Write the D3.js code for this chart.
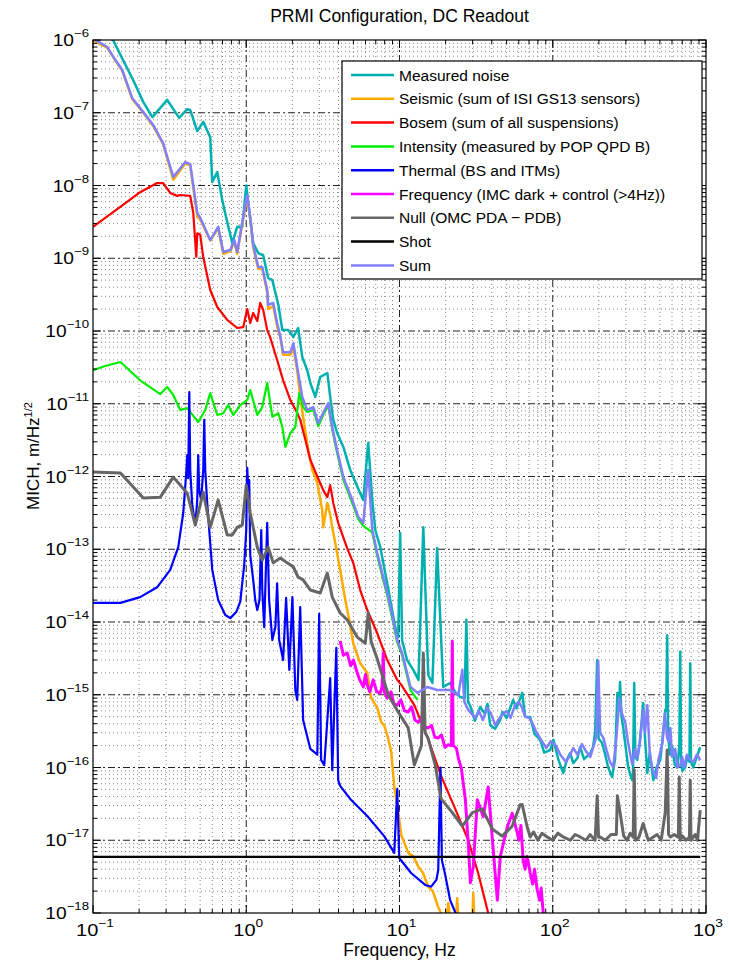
<!DOCTYPE html>
<html>
<head>
<meta charset="utf-8">
<script src="https://cdn.jsdelivr.net/npm/d3@7"></script>
<style>
body { margin: 0; background: #fff; }
text { font-family: "Liberation Sans", Arial, Helvetica, sans-serif; fill: #000; }
</style>
</head>
<body>
<div id="chart-area"></div>
<script>
// [frequency Hz, MICH ASD m/rtHz]
var measuredNoise = [[0.1,1.6e-6],[0.135,1.0e-6],[0.183,2.8e-7],[0.213,1.4e-7],[0.244,8.7e-8],[0.305,1.5e-7],[0.365,8.5e-8],[0.412,1.12e-7],[0.431,1.09e-7],[0.479,5.6e-8],[0.524,7.5e-8],[0.582,4.6e-8],[0.60,1.12e-8],[0.647,1.53e-8],[0.697,6.3e-9],[0.751,3.15e-9],[0.811,1.62e-9],[0.873,2.7e-9],[0.942,2.7e-9],[1.0,1.0e-8],[1.03,5.7e-9],[1.11,1.62e-9],[1.197,1.18e-9],[1.29,1.1e-9],[1.39,5.35e-10],[1.48,5.0e-10],[1.62,2.28e-10],[1.72,1.03e-10],[1.88,1.03e-10],[2.03,8.3e-11],[2.18,1.1e-10],[2.32,4.4e-11],[2.5,2.9e-11],[2.62,1.93e-11],[2.82,1.24e-11],[3.04,2.33e-11],[3.38,2.65e-11],[3.53,1.24e-11],[3.70,6.0e-12],[3.92,3.95e-12],[4.30,2.55e-12],[4.77,1.23e-12],[5.54,5.9e-13],[5.80,4.75e-13],[6.25,2.9e-12],[6.64,4.75e-13],[6.95,1.84e-13],[7.49,1.07e-13],[8.07,4.7e-14],[8.70,2.0e-14],[9.38,8.5e-15],[9.81,6.2e-15],[10.1,1.67e-13],[10.4,5.6e-15],[11.2,3.0e-15],[12.3,2.2e-15],[13.3,1.6e-15],[14.3,2.0e-13],[15.4,1.87e-15],[16.4,1.45e-15],[17.6,1.04e-13],[19.3,1.28e-15],[21.4,1.45e-15],[23.1,1.09e-15],[24.9,9.3e-16],[26.6,9.0e-16],[27.3,1.07e-14],[28.0,8.0e-16],[29.0,7.0e-16],[31.0,4.4e-16],[33.6,6.8e-16],[36.0,5.5e-16],[37.5,7.5e-16],[39.1,3.8e-16],[42.0,3.4e-16],[45.4,4.5e-16],[47.0,5.8e-16],[50.0,4.8e-16],[55.2,8.5e-16],[58.0,6.5e-16],[63.2,1.06e-15],[66.0,5.0e-16],[71.3,4.95e-16],[76.0,2.9e-16],[82.8,2.4e-16],[88.0,1.6e-16],[96.3,1.74e-16],[101,2.4e-16],[109,1.27e-16],[117,8.4e-17],[124,1.3e-16],[130,1.58e-16],[136,1.15e-16],[145,1.35e-16],[151,1.91e-16],[160,1.3e-16],[176,1.58e-16],[183,1.9e-16],[189,3.0e-16],[195,3.0e-15],[199,2.5e-16],[210,2.17e-16],[220,1.5e-16],[230,1.0e-16],[244,7.4e-17],[255,1.3e-16],[264,1.06e-15],[270,6.0e-16],[275,1.5e-15],[281,5.0e-16],[288,3.6e-16],[300,1.8e-16],[311,1.0e-16],[320,8.0e-17],[330,6.7e-17],[334,9.0e-17],[340,1.45e-15],[346,1.4e-16],[356,1.27e-16],[370,2.2e-16],[389,7.7e-16],[400,2.6e-16],[414,8.4e-17],[430,1.6e-16],[453,6.7e-17],[475,1.0e-16],[503,1.27e-16],[520,2.4e-16],[542,6.2e-16],[550,6.0e-16],[558,6.6e-15],[566,3.0e-16],[580,1.5e-16],[603,1.91e-16],[625,1.1e-16],[649,1.0e-16],[660,1.4e-16],[670,2.0e-16],[679,3.9e-15],[688,1.2e-16],[700,9.0e-17],[731,1.0e-16],[755,1.4e-16],[780,1.2e-16],[789,2.7e-15],[798,1.2e-16],[826,1.0e-16],[870,1.4e-16],[917,1.9e-16]];

var seismic = [[0.1,1.0e-6],[0.124,7.8e-7],[0.14,5.2e-7],[0.155,3.8e-7],[0.18,1.55e-7],[0.213,1.0e-7],[0.247,6.6e-8],[0.287,3.7e-8],[0.334,1.2e-8],[0.40,2.0e-8],[0.431,1.9e-8],[0.479,3.7e-9],[0.501,3.4e-9],[0.582,1.75e-9],[0.656,2.6e-9],[0.708,1.15e-9],[0.787,1.25e-9],[0.835,1.7e-9],[0.873,1.15e-9],[0.942,3.0e-9],[1.015,7.0e-9],[1.062,3.5e-9],[1.11,1.4e-9],[1.197,7.2e-10],[1.272,7.2e-10],[1.37,3.4e-10],[1.39,2.0e-10],[1.50,2.2e-10],[1.59,1.17e-10],[1.67,8.0e-11],[1.74,4.7e-11],[1.94,4.7e-11],[2.03,6.0e-11],[2.15,2.9e-11],[2.25,1.24e-11],[2.35,6.6e-12],[2.54,2.3e-12],[2.70,1.23e-12],[2.91,8.1e-13],[3.13,3.45e-13],[3.18,2.0e-13],[3.38,4.3e-13],[3.53,3.0e-13],[3.64,2.0e-13],[3.81,1.22e-13],[4.10,5.2e-14],[4.43,2.0e-14],[4.77,9.1e-15],[4.99,5.1e-15],[5.54,2.7e-15],[6.16,2.0e-15],[6.54,9.0e-16],[7.16,6.6e-16],[7.6,4.2e-16],[7.95,3.8e-16],[8.4,2.6e-16],[8.83,1.63e-16],[9.24,5.6e-17],[9.81,2.45e-17],[10.3,1.14e-17],[10.8,9.0e-18],[11.4,6.7e-18],[12.3,6.0e-18],[13.3,4.3e-18],[14.2,3.6e-18],[15.4,2.3e-18],[16.5,2.0e-18],[17.9,1.2e-18],[18.9,9.4e-19],[20.4,9.0e-19],[20.8,1.37e-18],[21.3,9.0e-19],[23.4,9.0e-19],[23.8,1.6e-18],[24.2,8.0e-19],[29.9,8.0e-19],[30.3,1.9e-18],[30.8,8.0e-19]];

var bosem = [[0.1,2.7e-9],[0.157,5.4e-9],[0.203,8.1e-9],[0.262,1.08e-8],[0.287,1.08e-8],[0.319,7.9e-9],[0.355,7.2e-9],[0.371,7.4e-9],[0.431,7.2e-9],[0.451,4.2e-9],[0.472,1.04e-9],[0.479,2.2e-9],[0.501,2.1e-9],[0.524,1.04e-9],[0.582,3.66e-10],[0.647,2.14e-10],[0.751,1.42e-10],[0.873,1.1e-10],[0.956,1.13e-10],[1.015,2.0e-10],[1.062,1.29e-10],[1.11,1.77e-10],[1.18,1.37e-10],[1.234,2.43e-10],[1.29,1.95e-10],[1.37,1.03e-10],[1.43,8.3e-11],[1.59,4.0e-11],[1.74,2.1e-11],[1.94,1.12e-11],[2.15,7.5e-12],[2.25,6.0e-12],[2.43,3.2e-12],[2.62,1.69e-12],[2.91,1.0e-12],[3.18,6.5e-13],[3.38,5.2e-13],[3.53,7.6e-13],[3.70,4.3e-13],[3.98,2.3e-13],[4.56,1.03e-13],[4.99,6.5e-14],[5.54,2.75e-14],[6.16,1.46e-14],[7.16,7.0e-15],[8.32,3.0e-15],[9.67,1.6e-15],[10.3,1.36e-15],[12.5,7.2e-16],[15.4,2.46e-16],[18.7,7.6e-17],[23.1,2.7e-17],[28.1,1.0e-17],[32.6,3.55e-18],[37.9,1.0e-18],[40.3,6.8e-19]];

var intensity = [[0.1,2.9e-11],[0.12,3.3e-11],[0.151,3.75e-11],[0.203,2.1e-11],[0.275,1.36e-11],[0.305,1.7e-11],[0.334,1.32e-11],[0.371,8.2e-12],[0.412,8.7e-12],[0.486,5.6e-12],[0.54,8.2e-12],[0.582,1.4e-11],[0.647,7.0e-12],[0.708,7.4e-12],[0.763,9.6e-12],[0.822,7.0e-12],[0.914,9.6e-12],[1.015,1.13e-11],[1.062,1.54e-11],[1.18,7.0e-12],[1.272,9.0e-12],[1.37,1.93e-11],[1.48,6.6e-12],[1.62,7.4e-12],[1.72,4.8e-12],[1.80,2.55e-12],[1.94,3.95e-12],[2.09,4.8e-12],[2.22,1.4e-11],[2.35,9.0e-12],[2.5,7.7e-12],[2.74,8.2e-12],[2.95,4.9e-12],[3.18,7.0e-12],[3.43,9.4e-12],[3.64,4.4e-12],[3.92,2.1e-12],[4.30,9.0e-13],[4.92,4.3e-13],[5.38,2.6e-13],[5.80,2.1e-13],[6.64,1.7e-13],[7.16,8.1e-14],[7.71,4.3e-14],[8.32,2.3e-14],[9.10,9.7e-15],[9.67,5.2e-15],[10.4,3.5e-15],[11.8,1.16e-15],[13.1,8.5e-16]];

var thermal = [[0.1,1.83e-14],[0.151,1.83e-14],[0.203,2.2e-14],[0.262,3.0e-14],[0.319,5.2e-14],[0.36,1.07e-13],[0.388,3.15e-13],[0.406,1.12e-12],[0.412,1.97e-12],[0.418,9.5e-13],[0.425,1.45e-11],[0.431,1.23e-12],[0.444,4.1e-13],[0.465,2.15e-13],[0.479,4.75e-13],[0.486,1.97e-12],[0.493,6.5e-13],[0.508,4.75e-13],[0.524,1.23e-12],[0.532,6.0e-12],[0.54,1.23e-12],[0.557,4.1e-13],[0.60,5.2e-14],[0.656,2.0e-14],[0.73,1.25e-14],[0.787,1.13e-14],[0.86,1.37e-14],[0.914,1.9e-14],[0.97,6.1e-14],[1.0,1.84e-13],[1.015,1.31e-12],[1.03,6.5e-13],[1.046,8.9e-13],[1.062,8.3e-14],[1.11,3.8e-14],[1.145,2.0e-14],[1.18,1.46e-14],[1.22,2.0e-14],[1.253,1.84e-13],[1.272,2.75e-14],[1.31,8.5e-15],[1.37,2.3e-13],[1.41,2.0e-14],[1.48,5.65e-15],[1.55,8.6e-15],[1.59,3.4e-14],[1.64,5.65e-15],[1.74,3.0e-15],[1.82,2.14e-14],[1.91,2.2e-15],[2.0,2.2e-14],[2.09,1.16e-15],[2.15,8.5e-16],[2.25,1.6e-14],[2.35,4.5e-16],[2.62,1.8e-16],[2.91,1.5e-16],[2.99,1.29e-14],[3.08,1.27e-16],[3.23,1.08e-16],[3.53,1.7e-15],[3.64,9.2e-17],[3.87,4.4e-15],[3.98,6.7e-17],[4.10,5.6e-17],[4.77,3.7e-17],[6.16,2.15e-17],[7.95,1.14e-17],[9.24,6.7e-18],[9.67,5.1e-17],[9.96,5.7e-18],[11.9,3.55e-18],[14.7,2.43e-18],[16.1,2.3e-18],[17.4,2.85e-18],[17.9,3.9e-18],[18.5,1.0e-16],[18.9,5.35e-18],[19.9,3.3e-18],[21.4,1.5e-18],[23.5,9.4e-19],[25.0,6.0e-19]];

var frequencyNoise = [[4.10,5.5e-15],[4.3,3.5e-15],[4.56,3.75e-15],[4.8,2.5e-15],[5.0,3.0e-15],[5.30,2.0e-15],[5.5,1.6e-15],[5.80,1.28e-15],[6.0,1.9e-15],[6.16,1.35e-15],[6.4,1.1e-15],[6.74,1.6e-15],[7.1,1.1e-15],[7.49,1.06e-15],[7.70,1.3e-15],[7.83,3.75e-15],[7.95,1.1e-15],[8.32,9.0e-16],[8.8,1.1e-15],[9.2,7.5e-16],[9.67,7.2e-16],[10.2,8.5e-16],[10.8,6.0e-16],[11.4,5.8e-16],[12.0,6.8e-16],[12.6,4.5e-16],[13.3,4.2e-16],[14.0,5.0e-16],[14.6,3.6e-16],[15.4,3.5e-16],[16.2,3.8e-16],[17.0,2.6e-16],[17.9,2.55e-16],[18.8,2.8e-16],[19.8,1.9e-16],[20.8,2.05e-16],[21.8,2.0e-16],[22.1,5.5e-15],[22.4,2.0e-16],[23.5,1.85e-16],[24.3,1.3e-16],[25.3,9.9e-17],[26.9,3.6e-17],[28.1,9.2e-18],[29.0,2.6e-18],[30.3,4.3e-18],[32.2,3.6e-17],[35.2,2.1e-17],[37.9,5.4e-17],[40.9,7.3e-18],[43.5,1.5e-18],[45.4,5.9e-18],[50.5,1.52e-17],[54.4,2.35e-17],[58.7,1.26e-17],[60,1.0e-17],[62,1.6e-17],[64.1,5.35e-18],[66,4.0e-18],[68,6.0e-18],[71.3,3.55e-18],[74,2.5e-18],[76,4.0e-18],[79.2,2.07e-18],[82,1.5e-18],[84,2.2e-18],[86.7,1.0e-18],[90.0,8.0e-19]];

var nullChannel = [[0.1,1.15e-12],[0.151,1.12e-12],[0.213,5.05e-13],[0.275,5.2e-13],[0.334,9.8e-13],[0.412,5.9e-13],[0.465,2.15e-13],[0.524,6.1e-13],[0.582,2.0e-13],[0.656,4.75e-13],[0.751,1.57e-13],[0.811,1.57e-13],[0.873,2.0e-13],[0.942,2.15e-13],[1.0,7.6e-13],[1.062,3.15e-13],[1.18,1.07e-13],[1.272,7.1e-14],[1.39,1.07e-13],[1.50,6.5e-14],[1.67,7.6e-14],[1.85,6.5e-14],[2.03,5.7e-14],[2.18,4.15e-14],[2.35,3.8e-14],[2.62,2.75e-14],[3.04,2.5e-14],[3.38,4.7e-14],[3.64,2.2e-14],[4.10,1.33e-14],[4.56,1.07e-14],[5.30,6.2e-15],[5.98,5.1e-15],[6.25,1.33e-14],[6.54,5.3e-15],[7.16,3.1e-15],[8.44,1.0e-15],[9.81,5.8e-16],[11.4,3.5e-16],[12.5,1.08e-16],[13.9,2.0e-16],[14.3,3.75e-15],[14.7,3.0e-16],[15.4,2.5e-16],[17.1,1.08e-16],[18.7,3.7e-17],[22.1,2.4e-17],[25.7,1.57e-17],[29.9,2.4e-17],[34.7,2.7e-17],[40.3,1.43e-17],[46.8,1.14e-17],[54.4,1.57e-17],[61.3,3.07e-17],[63.2,3.1e-17],[68.1,1.52e-17],[71.3,1.11e-17],[75,1.3e-17],[80,1.0e-17],[85,1.25e-17],[92.1,1.11e-17],[100,1.0e-17],[108,1.25e-17],[117,1.11e-17],[130,1.0e-17],[140,1.2e-17],[151,1.11e-17],[165,1.0e-17],[175,1.2e-17],[189,1.0e-17],[195,4.1e-17],[199,1.1e-17],[204,1.11e-17],[220,1.0e-17],[240,1.2e-17],[260,1.2e-17],[264,4.1e-17],[275,2.4e-17],[290,1.15e-17],[306,1.0e-17],[320,1.25e-17],[335,1.1e-17],[340,9.3e-17],[346,1.0e-17],[365,1.1e-17],[389,1.7e-17],[420,1.0e-17],[453,1.11e-17],[480,1.2e-17],[510,1.0e-17],[542,2.4e-17],[558,1.74e-16],[570,1.2e-17],[585,1.11e-17],[620,1.2e-17],[660,1.1e-17],[669,7.4e-17],[680,1.0e-17],[700,1.15e-17],[740,1.0e-17],[780,1.1e-17],[789,6.7e-17],[798,1.0e-17],[850,1.2e-17],[880,1.0e-17],[917,2.6e-17]];

var shot = [[0.1,5.9e-18],[917,5.9e-18]];

var sumNoise = [[0.1,1.05e-6],[0.124,8.0e-7],[0.14,5.3e-7],[0.155,3.9e-7],[0.18,1.6e-7],[0.213,1.02e-7],[0.247,6.8e-8],[0.287,3.8e-8],[0.334,1.31e-8],[0.40,2.1e-8],[0.431,1.97e-8],[0.479,4.2e-9],[0.501,3.6e-9],[0.582,1.78e-9],[0.656,2.7e-9],[0.708,1.22e-9],[0.787,1.3e-9],[0.835,1.78e-9],[0.873,1.22e-9],[0.942,3.15e-9],[1.015,7.4e-9],[1.062,3.7e-9],[1.11,1.52e-9],[1.197,7.6e-10],[1.272,7.6e-10],[1.37,3.66e-10],[1.39,2.28e-10],[1.50,2.43e-10],[1.59,1.29e-10],[1.67,8.3e-11],[1.74,5.1e-11],[1.94,5.1e-11],[2.03,6.8e-11],[2.15,3.2e-11],[2.32,1.24e-11],[2.50,8.2e-12],[2.74,9.0e-12],[2.95,5.4e-12],[3.18,7.5e-12],[3.43,1.02e-11],[3.64,4.8e-12],[3.92,2.3e-12],[4.30,9.8e-13],[4.92,4.75e-13],[5.38,2.8e-13],[5.80,2.3e-13],[6.25,1.23e-12],[6.64,1.84e-13],[7.16,8.9e-14],[7.71,4.7e-14],[8.32,2.5e-14],[9.10,1.07e-14],[9.67,5.65e-15],[10.4,3.75e-15],[11.8,1.28e-15],[13.1,1.06e-15],[15.2,1.28e-15],[17.6,1.16e-15],[21.4,1.16e-15],[24.2,9.9e-16],[25.7,2.2e-15],[26.5,8.0e-16],[28.1,6.2e-16],[29.5,5.5e-16],[31.2,4.8e-16],[33,6.0e-16],[35,4.5e-16],[37.4,6.6e-16],[39.5,5.5e-16],[42.2,3.8e-16],[44,4.5e-16],[46.8,5.3e-16],[50,6.0e-16],[53,4.8e-16],[56.9,7.2e-16],[60,8.0e-16],[63.2,6.6e-16],[66,5.0e-16],[70.3,4.8e-16],[74,4.0e-16],[78.0,3.1e-16],[84,2.4e-16],[90.8,1.85e-16],[97,2.3e-16],[105,2.0e-16],[112,1.5e-16],[122,1.19e-16],[128,1.4e-16],[136,1.85e-16],[145,1.5e-16],[155,2.1e-16],[166,1.63e-16],[176,1.4e-16],[192,2.6e-16],[198,2.9e-15],[204,3.0e-16],[214,2.55e-16],[225,1.7e-16],[236,1.2e-16],[248,1.0e-16],[260,2.5e-16],[272,9.0e-16],[283,5.5e-16],[297,4.2e-16],[310,2.2e-16],[330,1.1e-16],[345,1.8e-16],[356,1.35e-16],[370,2.2e-16],[389,6.2e-16],[400,3.0e-16],[414,7.2e-16],[430,1.5e-16],[450,9.0e-17],[473,7.2e-17],[490,1.3e-16],[520,2.2e-16],[540,5.5e-16],[558,2.55e-16],[570,2.3e-16],[585,3.5e-16],[600,1.4e-16],[630,1.8e-16],[650,1.0e-16],[679,1.08e-16],[700,1.4e-16],[720,1.0e-16],[750,1.5e-16],[789,1.27e-16],[830,1.2e-16],[870,1.5e-16],[917,1.27e-16]];

var seriesNames = ["Measured noise", "Seismic (sum of ISI GS13 sensors)", "Bosem (sum of all suspensions)",
  "Intensity (measured by POP QPD B)", "Thermal (BS and ITMs)", "Frequency (IMC dark + control (>4Hz))",
  "Null (OMC PDA \u2212 PDB)", "Shot", "Sum"];
var seriesColors = ["#00b0b0", "#ffaa00", "#ff0000", "#00ee00", "#0000ff", "#ff00ff", "#666666", "#000000", "#8080ff"];
var seriesData = [measuredNoise, seismic, bosem, intensity, thermal, frequencyNoise, nullChannel, shot, sumNoise];

var width = 729, height = 965;
var plotL = 93, plotR = 706, plotT = 40, plotB = 913;

var svg = d3.select("#chart-area").append("svg")
    .attr("width", width)
    .attr("height", height);

var x = d3.scaleLog().domain([0.1, 1000]).range([plotL, plotR]);
var y = d3.scaleLog().domain([1e-18, 1e-6]).range([plotB, plotT]);

// all 1..9 x 10^k ticks
function logTicks(lo, hi) {
    var t = [];
    for (var k = lo; k < hi; k++) {
        for (var m = 1; m < 10; m++) t.push(m * Math.pow(10, k));
    }
    t.push(Math.pow(10, hi));
    return t;
}
var xTicks = logTicks(-1, 3);
var yTicks = logTicks(-18, -6);
function isMajor(v) { var l = Math.log10(v); return Math.abs(l - Math.round(l)) < 1e-9; }

// grid
var grid = svg.append("g");
xTicks.forEach(function(t) {
    if (t <= 0.1 || t >= 1000) return;
    grid.append("line")
        .attr("x1", x(t)).attr("x2", x(t)).attr("y1", plotT).attr("y2", plotB)
        .attr("stroke", isMajor(t) ? "#222" : "#888")
        .attr("stroke-width", 1)
        .attr("stroke-dasharray", isMajor(t) ? "7,3,2,3" : "1,3");
});
yTicks.forEach(function(t) {
    if (t <= 1e-18 || t >= 1e-6) return;
    grid.append("line")
        .attr("y1", y(t)).attr("y2", y(t)).attr("x1", plotL).attr("x2", plotR)
        .attr("stroke", isMajor(t) ? "#222" : "#888")
        .attr("stroke-width", 1)
        .attr("stroke-dasharray", isMajor(t) ? "7,3,2,3" : "1,3");
});

// curves
svg.append("clipPath").attr("id", "plot-clip")
    .append("rect").attr("x", plotL).attr("y", plotT).attr("width", plotR - plotL).attr("height", plotB - plotT);

var line = d3.line()
    .x(function(d) { return x(d[0]); })
    .y(function(d) { return y(d[1]); });

var lineWidths = [2.5, 2.5, 2.2, 2.2, 2.2, 3, 3, 2.2, 2.5];
var curves = svg.append("g").attr("clip-path", "url(#plot-clip)");
seriesData.forEach(function(d, i) {
    curves.append("path")
        .datum(d)
        .attr("d", line)
        .attr("fill", "none")
        .attr("stroke", seriesColors[i])
        .attr("stroke-width", lineWidths[i])
        .attr("stroke-linejoin", "round");
});

// box and inward ticks on all sides
function tickLen(t) { return isMajor(t) ? 8 : 4; }
var axes = svg.append("g").attr("stroke", "#000").attr("stroke-width", 1);
xTicks.forEach(function(t) {
    axes.append("line").attr("x1", x(t)).attr("x2", x(t)).attr("y1", plotB).attr("y2", plotB - tickLen(t));
    axes.append("line").attr("x1", x(t)).attr("x2", x(t)).attr("y1", plotT).attr("y2", plotT + tickLen(t));
});
yTicks.forEach(function(t) {
    axes.append("line").attr("y1", y(t)).attr("y2", y(t)).attr("x1", plotL).attr("x2", plotL + tickLen(t));
    axes.append("line").attr("y1", y(t)).attr("y2", y(t)).attr("x1", plotR).attr("x2", plotR - tickLen(t));
});
svg.append("rect")
    .attr("x", plotL).attr("y", plotT).attr("width", plotR - plotL).attr("height", plotB - plotT)
    .attr("fill", "none").attr("stroke", "#000").attr("stroke-width", 1.2);

// tick labels: 10 with superscript exponent (glyphs are wide in the original)
function expLabel(sel, e) {
    sel.append("tspan").text("10");
    sel.append("tspan").attr("dy", -9).attr("font-size", 11)
        .text(e < 0 ? "\u2212" + (-e) : String(e));
}
xTicks.filter(isMajor).forEach(function(t) {
    var e = Math.round(Math.log10(t));
    var lbl = svg.append("text")
        .attr("transform", "translate(" + (x(t) + 2) + "," + (plotB + 23) + ") scale(1.25,1)")
        .attr("text-anchor", "middle")
        .attr("font-size", 16);
    expLabel(lbl, e);
});
yTicks.filter(isMajor).forEach(function(t) {
    var e = Math.round(Math.log10(t));
    var lbl = svg.append("text")
        .attr("transform", "translate(" + (plotL - 4) + "," + (y(t) + 6) + ") scale(1.2,1)")
        .attr("text-anchor", "end")
        .attr("font-size", 16);
    expLabel(lbl, e);
});

// titles
svg.append("text")
    .attr("x", (plotL + plotR) / 2).attr("y", 22)
    .attr("text-anchor", "middle").attr("font-size", 17.5)
    .text("PRMI Configuration, DC Readout");

svg.append("text")
    .attr("x", (plotL + plotR) / 2).attr("y", 956)
    .attr("text-anchor", "middle").attr("font-size", 17.5)
    .text("Frequency, Hz");

var ylab = svg.append("text")
    .attr("transform", "translate(39,456) rotate(-90)")
    .attr("text-anchor", "middle").attr("font-size", 17);
ylab.append("tspan").text("MICH, m/Hz");
ylab.append("tspan").attr("dy", -7).attr("font-size", 11).text("1/2");

// legend
var legend = svg.append("g");
legend.append("rect")
    .attr("x", 342).attr("y", 61).attr("width", 360).attr("height", 218)
    .attr("fill", "#fff").attr("stroke", "#000").attr("stroke-width", 1.2);
seriesNames.forEach(function(name, i) {
    var ly = 75 + i * 23.8;
    legend.append("line")
        .attr("x1", 351).attr("x2", 394).attr("y1", ly).attr("y2", ly)
        .attr("stroke", seriesColors[i]).attr("stroke-width", 2.5);
    legend.append("text")
        .attr("x", 399).attr("y", ly + 5.5)
        .attr("font-size", 15.5)
        .text(name);
});
</script>
</body>
</html>
